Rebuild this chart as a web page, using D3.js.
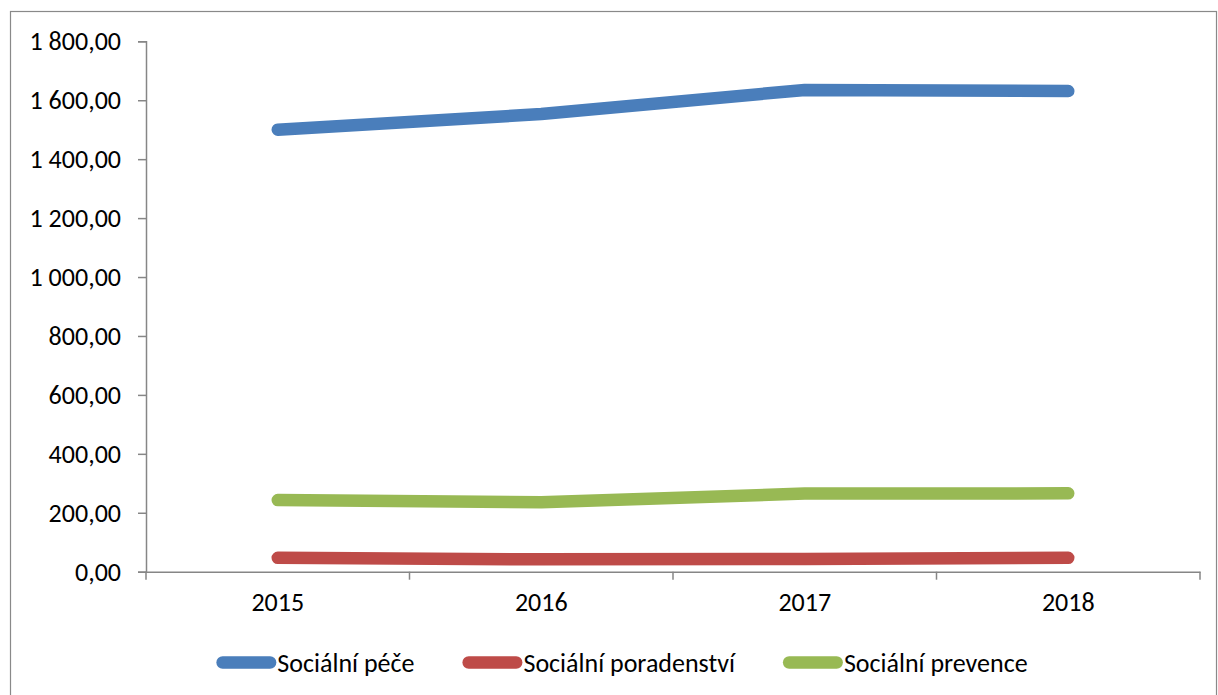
<!DOCTYPE html>
<html>
<head>
<meta charset="utf-8">
<script src="https://cdn.jsdelivr.net/npm/d3@7"></script>
<style>
html,body{margin:0;padding:0;background:#fff;}
svg text{font-family:Carlito,"Liberation Sans",Arial,sans-serif;fill:#000;}
</style>
</head>
<body>
<svg id="chart" width="1218" height="695"></svg>
<script>
const categories = ["2015", "2016", "2017", "2018"];
const seriesNames = ["Sociální péče", "Sociální poradenství", "Sociální prevence"];
const pece = [1500, 1553, 1635, 1631];
const poradenstvi = [47, 42, 43, 47];
const prevence = [243, 236, 265, 266];
const yTicks = [0, 200, 400, 600, 800, 1000, 1200, 1400, 1600, 1800];
const colors = ["#4A7EBB", "#BE4B48", "#98B954"];

const series = [pece, poradenstvi, prevence];
const svg = d3.select("#chart");
const fontSize = 26;

// outer border
svg.append("rect").attr("x", 10.5).attr("y", 11.5).attr("width", 1206).attr("height", 700)
  .attr("fill", "none").attr("stroke", "#898989").attr("stroke-width", 1.2);

const pLeft = 146, pRight = 1200, pTop = 41.3, pBottom = 571.7;
const x = d3.scaleBand().domain(categories).range([pLeft, pRight]).padding(0);
const y = d3.scaleLinear().domain([0, 1800]).range([pBottom, pTop]);

const fmt = v => {
  const s = d3.format(",.2f")(v);
  return s.replace(/,/g, " ").replace(".", ",");
};

// y axis
const yAxis = svg.append("g").attr("transform", `translate(${pLeft},0)`)
  .call(d3.axisLeft(y).tickValues(yTicks).tickFormat(fmt).tickSize(8).tickPadding(17));
yAxis.select(".domain").attr("stroke", "#868686").attr("stroke-width", 1.5);
yAxis.selectAll(".tick line").attr("stroke", "#868686").attr("stroke-width", 1.5);
yAxis.selectAll("text").attr("font-size", fontSize).attr("font-family", null).attr("fill", "#000");

// x axis
const xAxis = svg.append("g").attr("transform", `translate(0,${pBottom})`)
  .call(d3.axisBottom(x).tickSize(0).tickPadding(21));
xAxis.select(".domain").attr("stroke", "#868686").attr("stroke-width", 1.5);
xAxis.selectAll("text").attr("font-size", fontSize).attr("font-family", null).attr("fill", "#000");
// boundary ticks between categories
const bounds = categories.map(c => x(c)).concat([pRight]);
svg.append("g").selectAll("line").data(bounds).join("line")
  .attr("x1", d => d).attr("x2", d => d).attr("y1", pBottom).attr("y2", pBottom + 8)
  .attr("stroke", "#868686").attr("stroke-width", 1.5);

// lines
const line = d3.line().x((d, i) => x(categories[i]) + x.bandwidth() / 2).y(d => y(d));
svg.append("g").selectAll("path").data(series).join("path")
  .attr("d", d => line(d)).attr("fill", "none")
  .attr("stroke", (d, i) => colors[i]).attr("stroke-width", 12.5)
  .attr("stroke-linecap", "round").attr("stroke-linejoin", "round");

// legend
const legY = 662.5, lineLen = 60, gap = 48, legCenter = 622, sw = 12.5;
const leg = svg.append("g");
const items = seriesNames.map((n, i) => {
  const g = leg.append("g");
  g.append("line").attr("x1", sw / 2).attr("x2", lineLen - sw / 2).attr("y1", 0).attr("y2", 0)
    .attr("stroke", colors[i]).attr("stroke-width", sw).attr("stroke-linecap", "round");
  const t = g.append("text").attr("x", lineLen + 1).attr("y", 0).attr("dy", "0.35em")
    .attr("font-size", fontSize).text(n);
  return {g, w: lineLen + 1 + t.node().getComputedTextLength()};
});
const total = d3.sum(items, d => d.w) + gap * (items.length - 1);
let cx = legCenter - total / 2;
items.forEach(it => { it.g.attr("transform", `translate(${cx},${legY})`); cx += it.w + gap; });
</script>
</body>
</html>
